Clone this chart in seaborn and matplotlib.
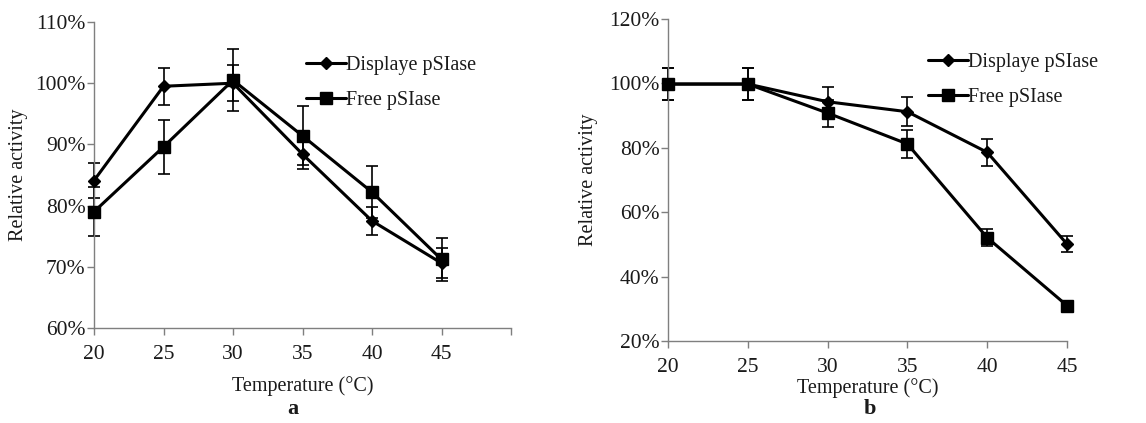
import numpy as np
import pandas as pd
import matplotlib
matplotlib.use("Agg")
import matplotlib.pyplot as plt
from matplotlib.lines import Line2D
import seaborn as sns

sns.set_style("white")
plt.rcParams['font.family'] = ['Liberation Serif', 'DejaVu Serif']

# ---- data ----
temps = [20, 25, 30, 35, 40, 45]
series = ["Displaye pSIase", "Free pSIase"]

# panel a: optimum temperature
a_display = [84.1, 99.5, 100.0, 88.4, 77.5, 70.6]
a_display_err = [2.8, 3.0, 2.9, 2.4, 2.3, 2.5]
a_free = [79.0, 89.6, 100.5, 91.4, 82.2, 71.2]
a_free_err = [4.0, 4.4, 5.1, 4.8, 4.2, 3.5]

# panel b: thermal stability
b_display = [99.8, 99.8, 94.3, 91.2, 78.6, 50.1]
b_display_err = [5.0, 5.0, 4.7, 4.5, 4.2, 2.5]
b_free = [99.8, 99.8, 90.8, 81.2, 52.1, 31.0]
b_free_err = [5.0, 5.0, 4.2, 4.3, 2.7, 1.0]

W, H = 1146, 423
fig = plt.figure(figsize=(W / 100, H / 100), dpi=100)

def px(l, t, r, b):
    return [l / W, 1 - b / H, (r - l) / W, (b - t) / H]

ax1 = fig.add_axes(px(94, 22, 511, 328))
ax2 = fig.add_axes(px(668, 19, 1067, 341))

text_col = "#1a1a1a"
spine_col = "#7f7f7f"

def draw(ax, d, de, f, fe, yticks, xlim, ylim, leg_anchor, xpad, xlpad, ylpad):
    df = pd.DataFrame({
        "Temperature": temps * 2,
        "Activity": list(d) + list(f),
        "Series": [series[0]] * len(temps) + [series[1]] * len(temps),
    })
    sns.lineplot(data=df, x="Temperature", y="Activity", hue="Series",
                 palette={series[0]: "black", series[1]: "black"},
                 linewidth=2.2, ax=ax, legend=False, zorder=3)
    ax.errorbar(temps, d, yerr=de, fmt="none", ecolor="black", elinewidth=1.2,
                capsize=4, capthick=1.2, zorder=2, clip_on=False)
    ax.errorbar(temps, f, yerr=fe, fmt="none", ecolor="black", elinewidth=1.2,
                capsize=4, capthick=1.2, zorder=2, clip_on=False)
    ax.plot(temps, d, linestyle="none", marker="D", markersize=6.5, color="black",
            zorder=4, clip_on=False)
    ax.plot(temps, f, linestyle="none", marker="s", markersize=9, color="black",
            zorder=4, clip_on=False)
    for ln in ax.lines:
        ln.set_clip_on(False)

    handles = [Line2D([0], [0], color="black", lw=2.2, marker="D", markersize=6.5),
               Line2D([0], [0], color="black", lw=2.2, marker="s", markersize=9)]
    leg = ax.legend(handles, series, loc="upper left", bbox_to_anchor=leg_anchor, frameon=False,
                    fontsize=14.5, handlelength=2.0, handletextpad=0.0, labelspacing=0.78,
                    borderaxespad=0, borderpad=0)
    for t in leg.get_texts():
        t.set_color(text_col)

    ax.set_xlim(*xlim)
    ax.set_ylim(*ylim)
    ax.set_xticks(list(temps) + ([50] if xlim[1] > 45 else []))
    ax.set_xticklabels([str(t) for t in temps] + ([""] if xlim[1] > 45 else []))
    ax.set_yticks(yticks)
    ax.set_yticklabels([f"{v}%" for v in yticks])
    ax.set_xlabel("Temperature (\u00b0C)", fontsize=14.5, color=text_col, labelpad=xlpad)
    ax.set_ylabel("Relative activity", fontsize=14.5, color=text_col, labelpad=ylpad)
    sns.despine(ax=ax)
    for s in ["left", "bottom"]:
        ax.spines[s].set_color(spine_col)
        ax.spines[s].set_linewidth(1.0)
    ax.tick_params(axis="both", which="major", direction="out", length=5, width=1.0,
                   color=spine_col, labelsize=15.5, labelcolor=text_col, pad=1,
                   bottom=True, left=True)
    ax.tick_params(axis="x", pad=xpad)

draw(ax1, a_display, a_display_err, a_free, a_free_err,
     [60, 70, 80, 90, 100, 110], (20, 50), (60, 110), (0.508, 0.889),
     xpad=7, xlpad=9, ylpad=5)
draw(ax2, b_display, b_display_err, b_free, b_free_err,
     [20, 40, 60, 80, 100, 120], (20, 45), (20, 120), (0.652, 0.895),
     xpad=7, xlpad=1, ylpad=8)

fig.text(293 / W, 1 - 409 / H, "a", ha="center", va="center", fontsize=16,
         fontweight="bold", color=text_col)
fig.text(870 / W, 1 - 409 / H, "b", ha="center", va="center", fontsize=16,
         fontweight="bold", color=text_col)

fig.savefig("out.png", dpi=100, facecolor="white")
